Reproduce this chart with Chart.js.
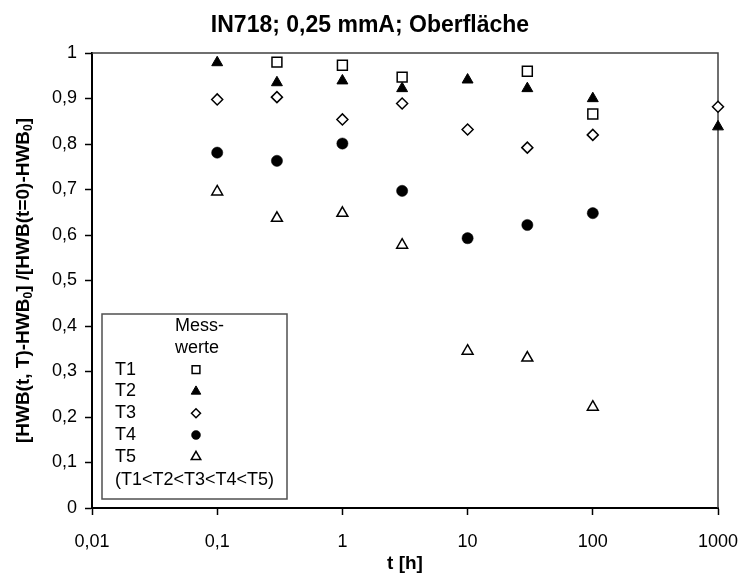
<!DOCTYPE html>
<html>
<head>
    <title>IN718; 0,25 mmA; Oberfläche</title>
    <script src="https://cdn.jsdelivr.net/npm/chart.js@4/dist/chart.umd.min.js"></script>
    <style>
        body {
            margin: 0;
            background-color: #ffffff;
            font-family: 'Liberation Sans', Arial, sans-serif;
        }
        .chart-container {
            width: 742px;
            height: 580px;
            position: relative;
        }
    </style>
</head>
<body>
    <div class="chart-container">
        <canvas id="hwbChart"></canvas>
    </div>

    <script>
        // Ticks
        const xTicks = [0.01, 0.1, 1, 10, 100, 1000];
        const yTicks = [0, 0.1, 0.2, 0.3, 0.4, 0.5, 0.6, 0.7, 0.8, 0.9, 1];

        // Messwerte, t [h] and relative HWB per temperature
        const t1Time = [0.3, 1, 3, 30, 100];
        const t1Vals = [0.980, 0.973, 0.947, 0.960, 0.866];

        const t2Time = [0.1, 0.3, 1, 3, 10, 30, 100, 1000];
        const t2Vals = [0.979, 0.935, 0.939, 0.922, 0.941, 0.922, 0.900, 0.838];

        const t3Time = [0.1, 0.3, 1, 3, 10, 30, 100, 1000];
        const t3Vals = [0.898, 0.903, 0.854, 0.889, 0.832, 0.792, 0.820, 0.882];

        const t4Time = [0.1, 0.3, 1, 3, 10, 30, 100];
        const t4Vals = [0.781, 0.763, 0.801, 0.697, 0.593, 0.622, 0.648];

        const t5Time = [0.1, 0.3, 1, 3, 10, 30, 100];
        const t5Vals = [0.695, 0.637, 0.648, 0.578, 0.345, 0.330, 0.222];

        const FONT = "'Liberation Sans', Arial, sans-serif";

        function toPoints(ts, vs) {
            return ts.map((t, i) => ({ x: t, y: vs[i] }));
        }

        function fmt(v) {
            return String(Number(v.toFixed(2))).replace('.', ',');
        }

        // marker styles, reused for the legend box
        const series = [
            { label: 'T1', data: toPoints(t1Time, t1Vals), style: 'rect', radius: 7, bg: '#ffffff', bw: 1.5, legendR: 5.5 },
            { label: 'T2', data: toPoints(t2Time, t2Vals), style: 'triangle', radius: 6.3, bg: '#000000', bw: 1, legendR: 5.5 },
            { label: 'T3', data: toPoints(t3Time, t3Vals), style: 'rectRot', radius: 5.5, bg: '#ffffff', bw: 1.5, legendR: 4.5 },
            { label: 'T4', data: toPoints(t4Time, t4Vals), style: 'circle', radius: 5.6, bg: '#000000', bw: 0.5, legendR: 4.5 },
            { label: 'T5', data: toPoints(t5Time, t5Vals), style: 'triangle', radius: 6.3, bg: '#ffffff', bw: 1.5, legendR: 5.5 }
        ];

        function drawMarker(ctx, s, r, x, y) {
            ctx.save();
            ctx.fillStyle = s.bg;
            ctx.strokeStyle = '#000000';
            ctx.lineWidth = s.bw;
            if (Chart.helpers && Chart.helpers.drawPoint) {
                Chart.helpers.drawPoint(ctx, { pointStyle: s.style, radius: r, rotation: 0, borderWidth: s.bw }, x, y);
            } else {
                ctx.beginPath();
                ctx.arc(x, y, r, 0, Math.PI * 2);
                ctx.fill();
                ctx.stroke();
            }
            ctx.restore();
        }

        const decorations = {
            id: 'decorations',
            beforeDatasetsDraw(chart) {
                const ctx = chart.ctx;
                const a = chart.chartArea;
                // frame top / right
                ctx.save();
                ctx.strokeStyle = '#404040';
                ctx.lineWidth = 1.5;
                ctx.beginPath();
                ctx.moveTo(a.left, a.top);
                ctx.lineTo(a.right, a.top);
                ctx.lineTo(a.right, a.bottom);
                ctx.stroke();
                ctx.restore();
            },
            afterDraw(chart) {
                const ctx = chart.ctx;
                const a = chart.chartArea;
                ctx.save();
                ctx.fillStyle = '#000000';

                // title
                ctx.font = 'bold 23px ' + FONT;
                ctx.textAlign = 'center';
                ctx.textBaseline = 'alphabetic';
                ctx.fillText('IN718; 0,25 mmA; Oberfläche', 370, 32);

                // x axis title
                ctx.font = 'bold 19px ' + FONT;
                ctx.textBaseline = 'middle';
                ctx.fillText('t [h]', (a.left + a.right) / 2, 564);

                // y axis title with subscripts
                const parts = [
                    ['[HWB(t, T)-HWB', false], ['0', true], ['] /[HWB(t=0)-HWB', false], ['0', true], [']', false]
                ];
                const mainFont = 'bold 19px ' + FONT;
                const subFont = 'bold 12px ' + FONT;
                let total = 0;
                parts.forEach(p => {
                    ctx.font = p[1] ? subFont : mainFont;
                    total += ctx.measureText(p[0]).width;
                });
                ctx.translate(24, (a.top + a.bottom) / 2);
                ctx.rotate(-Math.PI / 2);
                ctx.textAlign = 'left';
                ctx.textBaseline = 'middle';
                let px = -total / 2;
                parts.forEach(p => {
                    ctx.font = p[1] ? subFont : mainFont;
                    ctx.fillText(p[0], px, p[1] ? 5 : 0);
                    px += ctx.measureText(p[0]).width;
                });
                ctx.restore();

                // legend box
                ctx.save();
                const bx = 102, by = 314, bw = 185, bh = 185;
                ctx.fillStyle = '#ffffff';
                ctx.fillRect(bx, by, bw, bh);
                ctx.strokeStyle = '#505050';
                ctx.lineWidth = 1.5;
                ctx.strokeRect(bx, by, bw, bh);

                ctx.fillStyle = '#000000';
                ctx.font = '18px ' + FONT;
                ctx.textBaseline = 'middle';
                ctx.textAlign = 'left';
                const step = 21.8;
                let ry = 326;
                ctx.fillText('Mess-', 175, ry);
                ry += step;
                ctx.fillText('werte', 175, ry);
                series.forEach(s => {
                    ry += step;
                    ctx.fillText(s.label, 115, ry);
                    drawMarker(ctx, s, s.legendR, 196, ry);
                });
                ry += step;
                ctx.fillText('(T1<T2<T3<T4<T5)', 115, ry + 1);
                ctx.restore();
            }
        };

        const ctx = document.getElementById('hwbChart').getContext('2d');
        const chart = new Chart(ctx, {
            type: 'scatter',
            data: {
                datasets: series.map(s => ({
                    label: s.label,
                    data: s.data,
                    showLine: false,
                    pointStyle: s.style,
                    pointRadius: s.radius,
                    pointHoverRadius: s.radius,
                    pointBackgroundColor: s.bg,
                    pointBorderColor: '#000000',
                    pointBorderWidth: s.bw,
                    clip: false
                }))
            },
            options: {
                responsive: true,
                maintainAspectRatio: false,
                animation: false,
                layout: {
                    padding: { left: 0, top: 53, right: 24, bottom: 0 }
                },
                scales: {
                    x: {
                        type: 'logarithmic',
                        min: 0.01,
                        max: 1000,
                        afterBuildTicks: scale => {
                            scale.ticks = xTicks.map(v => ({ value: v }));
                        },
                        afterFit: scale => {
                            scale.height = 72;
                            scale.paddingLeft = 0;
                            scale.paddingRight = 0;
                        },
                        ticks: {
                            autoSkip: false,
                            maxRotation: 0,
                            color: '#000000',
                            padding: 16,
                            font: { family: FONT, size: 18 },
                            callback: v => fmt(v)
                        },
                        grid: {
                            drawOnChartArea: false,
                            drawTicks: true,
                            tickLength: 7,
                            tickColor: '#000000',
                            tickWidth: 1.5
                        },
                        border: { display: true, color: '#000000', width: 2 }
                    },
                    y: {
                        min: 0,
                        max: 1,
                        afterBuildTicks: scale => {
                            scale.ticks = yTicks.map(v => ({ value: v }));
                        },
                        afterFit: scale => {
                            scale.width = 92;
                            scale.paddingTop = 0;
                            scale.paddingBottom = 0;
                        },
                        ticks: {
                            color: '#000000',
                            padding: 8,
                            font: { family: FONT, size: 18 },
                            callback: v => fmt(v)
                        },
                        grid: {
                            drawOnChartArea: false,
                            drawTicks: true,
                            tickLength: 7,
                            tickColor: '#000000',
                            tickWidth: 1.5
                        },
                        border: { display: true, color: '#000000', width: 2 }
                    }
                },
                plugins: {
                    legend: { display: false },
                    title: { display: false },
                    tooltip: { enabled: false }
                }
            },
            plugins: [decorations]
        });
    </script>
</body>
</html>
